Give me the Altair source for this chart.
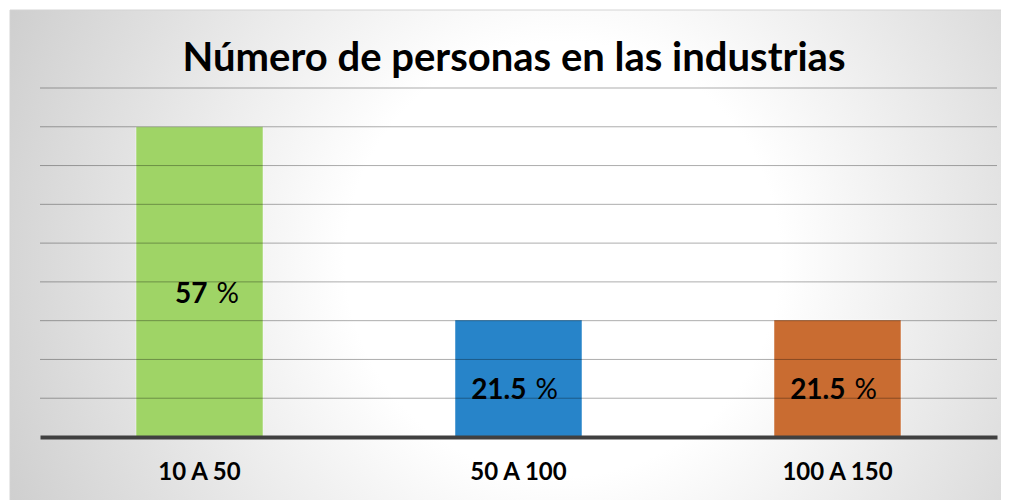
import altair as alt
import pandas as pd

categories = ["10 A 50", "50 A 100", "100 A 150"]
values = [57, 21.5, 21.5]
colors = ["#9fd466", "#2784c9", "#c96c31"]
grid_values = [7.125, 14.25, 21.375, 28.5, 35.625, 42.75, 49.875, 57, 64.125]
title_text = "Número de personas en las industrias"

df = pd.DataFrame({
    "cat": categories,
    "value": values,
    "color": colors,
})
df["mid"] = df["value"] / 2
df["label"] = [f"{v:g}" for v in values]
grid_df = pd.DataFrame({"g": grid_values})

W, H = 957, 349
FONT = "Lato"

x_enc = alt.X("cat:N", sort=categories,
              scale=alt.Scale(paddingInner=0.602, paddingOuter=0.301),
              axis=alt.Axis(title=None, labelAngle=0, labelFont=FONT, labelFontSize=24,
                            labelFontWeight="bold", labelColor="#000000", labelPadding=23,
                            ticks=False, domainColor="#404040", domainWidth=4, grid=False,
                            zindex=2))
y_scale = alt.Scale(domain=[0, 64.125], nice=False)

bg = alt.Chart(pd.DataFrame({"k": [0]})).mark_rect(
    fill=alt.RadialGradient(
        gradient="radial", x1=0.55, y1=0.5, r1=0, x2=0.55, y2=0.5, r2=0.72,
        stops=[alt.GradientStop(offset=0, color="#ffffff"),
               alt.GradientStop(offset=0.3, color="#ffffff"),
               alt.GradientStop(offset=1, color="#c0c0c0")]),
    stroke="#d4d4d4", strokeWidth=1,
).encode(x=alt.value(-30), x2=alt.value(975), y=alt.value(-78), y2=alt.value(420))

bars = alt.Chart(df).mark_bar(stroke="#ffffff", strokeOpacity=0.45, strokeWidth=1).encode(
    x=x_enc,
    y=alt.Y("value:Q", scale=y_scale, axis=None),
    color=alt.Color("color:N", scale=None),
)

grid = alt.Chart(grid_df).mark_rule(color="#000000", opacity=0.32, strokeWidth=1).encode(
    x=alt.value(0), x2=alt.value(W), y=alt.Y("g:Q", scale=y_scale))

nums = alt.Chart(df).mark_text(font=FONT, fontSize=28, fontWeight="bold", color="#000000",
                               align="right", baseline="middle", dx=8, dy=13).encode(
    x=alt.X("cat:N", sort=categories), y=alt.Y("mid:Q", scale=y_scale), text="label:N")

pct = alt.Chart(df).mark_text(font=FONT, fontSize=28, fontWeight="normal", color="#000000",
                              align="left", baseline="middle", dx=17, dy=13).encode(
    x=alt.X("cat:N", sort=categories), y=alt.Y("mid:Q", scale=y_scale), text=alt.value("%"))

title = alt.Chart(pd.DataFrame({"k": [0]})).mark_text(
    font=FONT, fontSize=40, fontWeight="bold", color="#000000", align="center",
    baseline="alphabetic").encode(x=alt.value(474), y=alt.value(-17), text=alt.value(title_text))

chart = alt.layer(bg, bars, grid, nums, pct, title).properties(
    width=W, height=H,
    autosize=alt.AutoSizeParams(type="none"),
    padding={"left": 32, "top": 80, "right": 4, "bottom": 63},
).configure_view(stroke=None)

chart.save("out.html", embed_options={"renderer": "svg", "actions": False})
